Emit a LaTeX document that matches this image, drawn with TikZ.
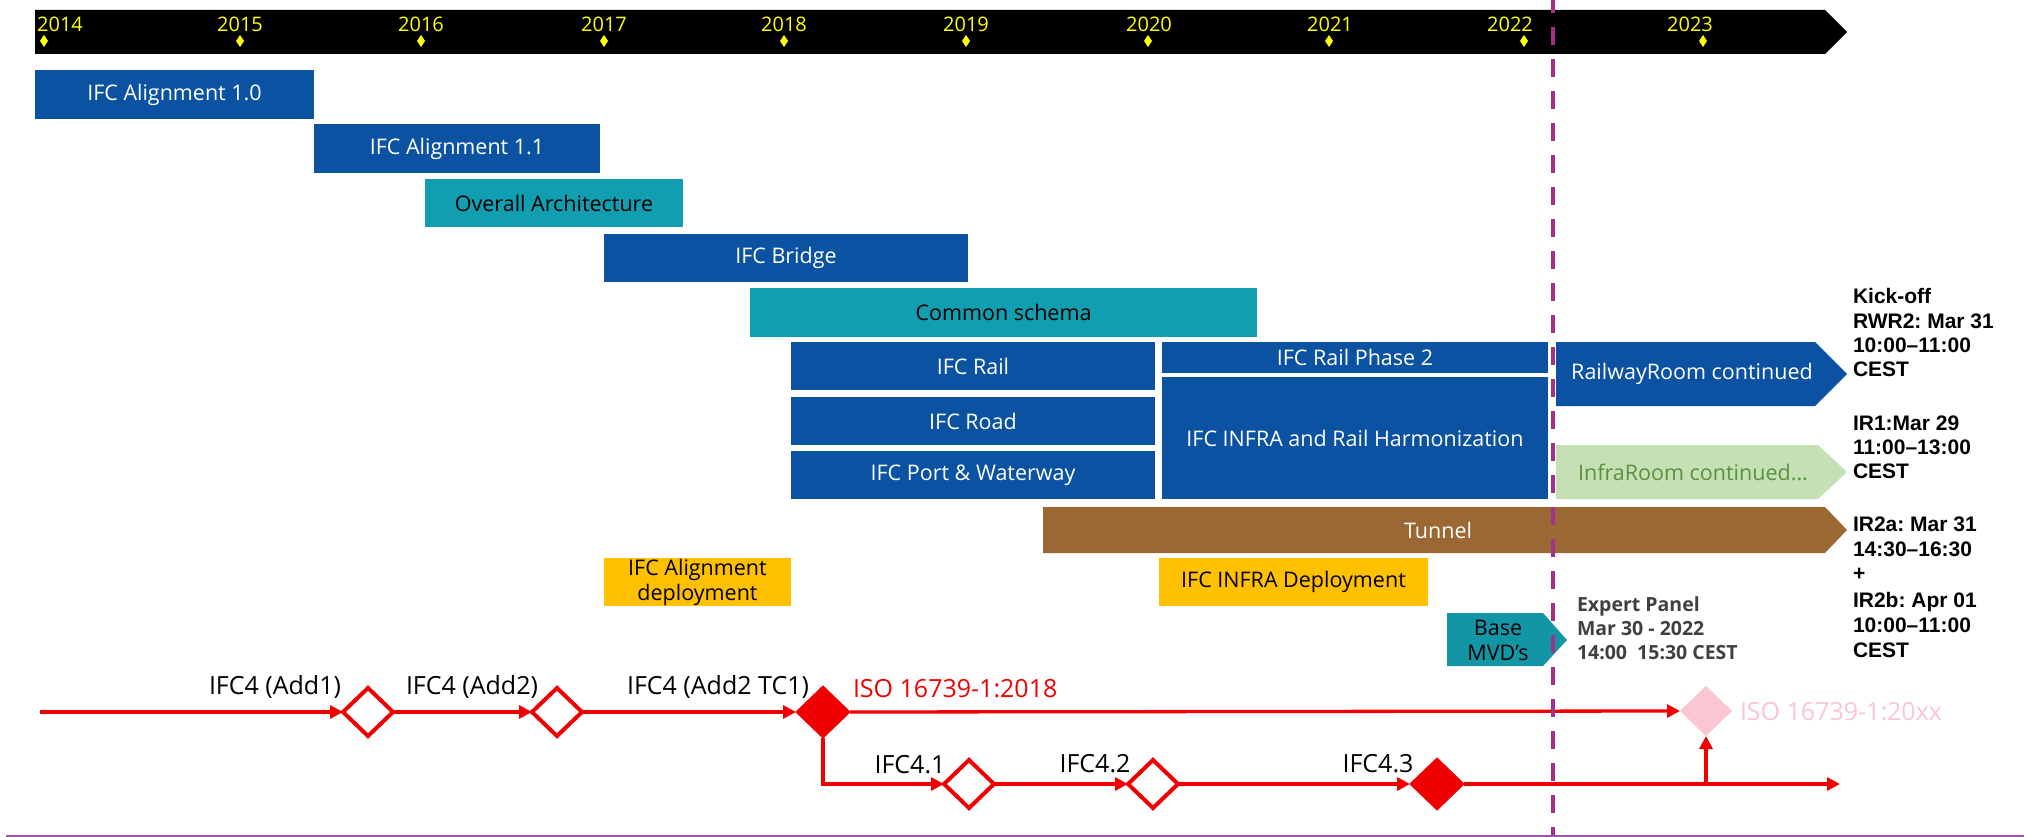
\documentclass[tikz,border=0pt]{standalone}
\usepackage{fontspec}
\setmainfont{Open Sans}
\newfontfamily\arialf{Liberation Sans}
\usetikzlibrary{shapes.geometric,arrows.meta}
\frenchspacing
\definecolor{ifcblue}{RGB}{11,83,162}
\definecolor{ifcteal}{RGB}{16,158,176}
\definecolor{mvdteal}{RGB}{18,150,166}
\definecolor{ifcyellow}{RGB}{255,192,0}
\definecolor{tunnelbrown}{RGB}{155,104,52}
\definecolor{roomgreen}{RGB}{197,224,180}
\definecolor{roomtext}{RGB}{90,145,60}
\definecolor{isored}{RGB}{240,0,0}
\definecolor{isopink}{RGB}{249,198,210}
\definecolor{nowpurple}{RGB}{160,50,140}
\definecolor{bottompurple}{RGB}{160,80,175}
\definecolor{yearyellow}{RGB}{255,255,0}
\definecolor{panelgray}{RGB}{64,64,64}
\begin{document}
\begin{tikzpicture}[x=1pt,y=-1pt,
  every node/.style={inner sep=0pt,outer sep=0pt},
  boxfont/.style={font=\fontsize{21.5}{25}\selectfont},
  bluebox/.style={rectangle,fill=ifcblue,text=white,boxfont,align=center},
  tealbox/.style={rectangle,fill=ifcteal,text=black,boxfont,align=center},
  yellowbox/.style={rectangle,fill=ifcyellow,text=black,boxfont,align=center},
  lbl/.style={boxfont,align=center},
  yearlbl/.style={anchor=base,text=yearyellow,font=\fontsize{20}{24}\selectfont},
  yeardia/.style={diamond,fill=yearyellow,minimum width=8pt,minimum height=12pt},
  ms/.style={diamond,draw=isored,line width=4pt,fill=white,minimum width=50pt,minimum height=48pt},
  msfilled/.style={diamond,draw=isored,fill=isored,line width=1pt,minimum width=54pt,minimum height=52pt},
  msnext/.style={diamond,fill=isopink,minimum width=52pt,minimum height=50pt},
  flow/.style={draw=isored,line width=3.3pt,-{Triangle[length=13pt,width=13pt]}},
  tl/.style={anchor=base,font=\fontsize{25}{30}\selectfont},
  side/.style={anchor=base west,font=\arialf\bfseries\fontsize{21}{25}\selectfont},
  panel/.style={anchor=base west,text=panelgray,font=\bfseries\fontsize{19.5}{23}\selectfont},
]
\useasboundingbox (0,0) rectangle (2024,837);
\fill[white] (0,0) rectangle (2024,837);

% header bar
\fill[black] (35,10) -- (1825,10) -- (1847,32) -- (1825,54) -- (35,54) -- cycle;
\foreach \yr/\dx/\lx in {2014/44/60,2015/240/240,2016/421/421,2017/604/604,2018/784/784,2019/966/966,2020/1148/1149,2021/1329/1330,2022/1524/1510,2023/1703/1690}{
  \node[yearlbl] (y\yr) at (\lx,32) {\yr};
  \node[yeardia] (yd\yr) at (\dx,41) {};
}

% work packages
\node[bluebox,minimum width=279pt,minimum height=49pt] (a10) at (174.5,94.5) {IFC Alignment 1.0};
\node[bluebox,minimum width=286pt,minimum height=49pt] (a11) at (457,148.5) {IFC Alignment 1.1};
\node[tealbox,minimum width=258pt,minimum height=48pt] (oa) at (554,203) {Overall Architecture};
\node[bluebox,minimum width=364pt,minimum height=48pt] (bridge) at (786,258) {IFC Bridge};
\node[tealbox,minimum width=507pt,minimum height=49pt] (common) at (1003.5,312.5) {Common schema};
\node[bluebox,minimum width=364pt,minimum height=48pt] (rail) at (973,366) {IFC Rail};
\node[bluebox,minimum width=364pt,minimum height=48pt] (road) at (973,421) {IFC Road};
\node[bluebox,minimum width=364pt,minimum height=48pt] (port) at (973,475) {IFC Port \& Waterway};
\node[bluebox,minimum width=386pt,minimum height=31pt] (railp2) at (1355,357.5) {IFC Rail Phase 2};
\node[bluebox,minimum width=386pt,minimum height=122pt] (harm) at (1355,438) {IFC INFRA and Rail Harmonization};
\node[yellowbox,minimum width=187pt,minimum height=48pt] (aligndep) at (697.5,582) {IFC Alignment\\deployment};
\node[yellowbox,minimum width=269pt,minimum height=48pt] (infradep) at (1293.5,582) {IFC INFRA Deployment};

% arrow-shaped bars
\fill[ifcblue] (1556,342) -- (1815,342) -- (1847,374) -- (1815,406) -- (1556,406) -- cycle;
\node[lbl,text=white] (rroom) at (1692,374) {RailwayRoom continued};
\fill[roomgreen] (1556,445) -- (1818,445) -- (1847,472) -- (1818,499) -- (1556,499) -- cycle;
\node[lbl,text=roomtext] (iroom) at (1693,472) {InfraRoom continued...};
\fill[tunnelbrown] (1043,507) -- (1825,507) -- (1847,530) -- (1825,553) -- (1043,553) -- cycle;
\node[lbl,text=white] (tunnel) at (1438,530) {Tunnel};
\fill[mvdteal] (1447,613) -- (1543,613) -- (1567,640) -- (1543,666) -- (1447,666) -- cycle;
\node[lbl,text=black] (mvd) at (1498,640) {Base\\MVD's};

% side notes
\node[panel] (ep1) at (1577,611) {Expert Panel};
\node[panel] (ep2) at (1577,635) {Mar 30 - 2022};
\node[panel] (ep3) at (1577,659) {14:00~~15:30 CEST};
\foreach \yy/\tx [count=\i] in {303/Kick-off,328/RWR2: Mar 31,352/10:00–11:00,376/CEST,430/IR1:Mar 29,454/11:00–13:00,478/CEST,531/IR2a: Mar 31,556/14:30–16:30,580/+,607/IR2b: Apr 01,632/10:00–11:00,657/CEST}{
  \node[side] (note\i) at (1853,\yy) {\tx};
}

% ISO / IFC release line
\coordinate (s0) at (40,712);
\node[ms] (d1) at (368,712) {};
\node[ms] (d2) at (557,712) {};
\node[msfilled] (d3) at (823,712) {};
\node[msnext] (d5) at (1706,711) {};
\node[ms] (d41) at (969,784) {};
\node[ms] (d42) at (1153,784) {};
\node[msfilled] (d43) at (1437,784) {};
\coordinate (e1) at (1840,784);
\coordinate (up) at (1706,784);
\draw[flow] (s0) -- (d1);
\draw[flow] (d1) -- (d2);
\draw[flow] (d2) -- (d3);
\draw[flow] (d3.east) -- (d5.west);
\draw[flow] (d3.south) |- (d41.west);
\draw[flow] (d41) -- (d42);
\draw[flow] (d42) -- (d43);
\draw[flow] (d43) -- (e1);
\draw[flow] (up) -- (d5.south);

\node[tl] (l1) at (275,694) {IFC4 (Add1)};
\node[tl] (l2) at (472,694) {IFC4 (Add2)};
\node[tl] (l3) at (718,694) {IFC4 (Add2 TC1)};
\node[tl,anchor=base west,text=isored] (l4) at (853,697) {ISO 16739-1:2018};
\node[tl] (l5) at (910,773) {IFC4.1};
\node[tl] (l6) at (1095,772) {IFC4.2};
\node[tl] (l7) at (1378,772) {IFC4.3};
\node[tl,anchor=base west,text=isopink] (l8) at (1740,720) {ISO 16739-1:20xx};

% today marker and base line
\coordinate (nowtop) at (1553,0);
\coordinate (nowbot) at (1553,837);
\draw[nowpurple,line width=4pt,dash pattern=on 18pt off 14pt,dash phase=5pt] (nowtop) -- (nowbot);
\coordinate (bl0) at (6,836);
\coordinate (bl1) at (2024,836);
\draw[bottompurple,line width=2.5pt] (bl0) -- (bl1);
\end{tikzpicture}
\end{document}
